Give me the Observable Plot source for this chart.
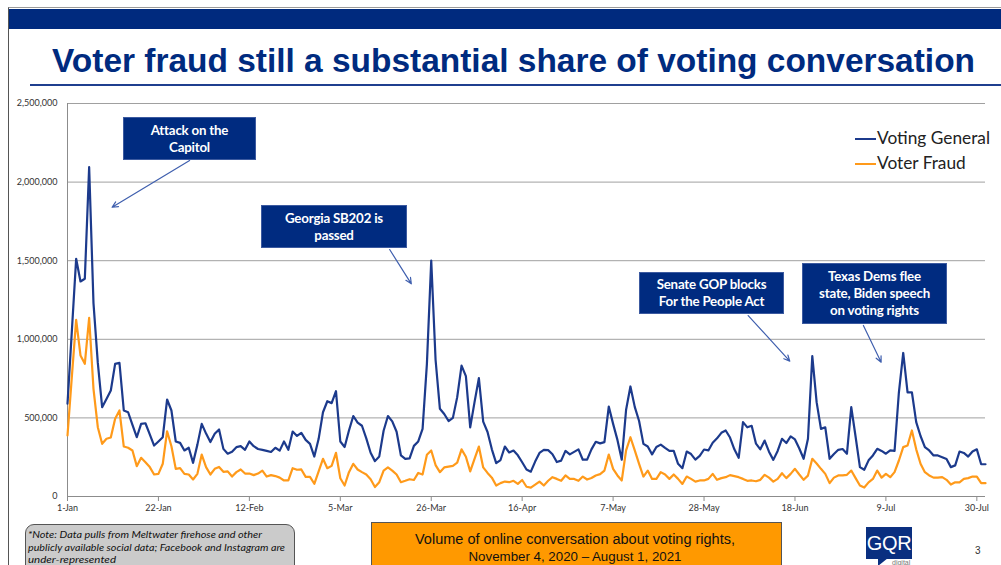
<!DOCTYPE html>
<html>
<head>
<meta charset="utf-8">
<script src="https://cdn.jsdelivr.net/npm/d3@7"></script>
<script src="https://cdn.jsdelivr.net/npm/@observablehq/plot@0.6"></script>
<style>
  html, body { margin: 0; padding: 0; background: #fff; }
  #page { position: relative; width: 1001px; height: 565px; overflow: hidden; background: #fff; font-family: Lato, "Liberation Sans", sans-serif; }
  #frame { position: absolute; left: 8px; top: 7px; right: -2px; bottom: -10px; border-left: 1.5px solid #555; border-top: 1px solid #9a9a9a; }
  #bar { position: absolute; left: 9px; top: 9px; width: 992px; height: 20px; background: #002a7e; }
  #titleSvg { position: absolute; left: 0; top: 30px; }
  #rule { position: absolute; left: 30px; top: 84px; width: 971px; height: 2px; background: #1f3f8f; }
  #chart { position: absolute; left: 0; top: 95px; }
  .anno { position: absolute; background: #002b80; color: #fff; font-family: Lato, sans-serif; font-weight: 700; font-size: 13.3px; line-height: 17px; text-align: center; display: flex; align-items: center; justify-content: center; border: 1px solid #3c5aa0; box-sizing: border-box; letter-spacing: -0.2px; }
  #legend { position: absolute; left: 855px; top: 125px; font-family: Lato, sans-serif; font-size: 17.3px; color: #222; line-height: 25px; }
  #legend .sw { display: inline-block; width: 21px; height: 2px; vertical-align: middle; margin-right: 1px; position: relative; top: -1px; }
  #note { position: absolute; left: 25px; top: 524px; width: 270px; height: 60px; background: #cbcbcb; border: 1.5px solid #555; border-radius: 9px; box-sizing: border-box; }
  #noteSvg { position: absolute; left: 0; top: 0; }
  #orange { position: absolute; left: 371px; top: 522px; width: 411px; height: 60px; background: #ff9900; border: 1.5px solid #555; box-sizing: border-box; }
  #logo { position: absolute; left: 866px; top: 527px; width: 46px; height: 32px; background: #0a2f80; }
  #logoTail { position: absolute; left: 878px; top: 558px; width: 0; height: 0; border-left: 10px solid #0a2f80; border-bottom: 8px solid transparent; }
  #logoTxt { position: absolute; left: 866px; top: 527px; width: 46px; height: 32px; color: #fff; font-family: "Liberation Sans", Arial, sans-serif; font-size: 20px; line-height: 32px; text-align: center; letter-spacing: -0.3px; }
  #digital { position: absolute; left: 892px; top: 559px; font-size: 7px; color: #777; font-family: "Liberation Sans", sans-serif; }
  #pnum { position: absolute; left: 975px; top: 545px; font-size: 10px; color: #333; font-family: "Liberation Sans", sans-serif; }
</style>
</head>
<body>
<div id="page">
  <div id="frame"></div>
  <div id="bar"></div>
  <svg id="titleSvg" width="1001" height="55">
    <text x="52" y="42" textLength="923" lengthAdjust="spacingAndGlyphs" font-family="Liberation Sans, Arial, sans-serif" font-weight="700" font-size="33" fill="#002b7f">Voter fraud still a substantial share of voting conversation</text>
  </svg>
  <div id="rule"></div>
  <div id="chart"></div>
  <div id="annos"></div>
  <div id="legend"></div>
  <div id="note">
    <svg id="noteSvg" width="270" height="60">
      <text x="2" y="13" textLength="234" lengthAdjust="spacingAndGlyphs" font-family="Lato, sans-serif" font-style="italic" font-size="9.5" fill="#111">*Note: Data pulls from Meltwater firehose and other</text>
      <text x="2" y="25.5" textLength="257" lengthAdjust="spacingAndGlyphs" font-family="Lato, sans-serif" font-style="italic" font-size="9.5" fill="#111">publicly available social data; Facebook and Instagram are</text>
      <text x="2" y="38" textLength="88" lengthAdjust="spacingAndGlyphs" font-family="Lato, sans-serif" font-style="italic" font-size="9.5" fill="#111">under-represented</text>
    </svg>
  </div>
  <div id="orange">
    <svg width="411" height="60" style="position:absolute;left:-1.5px;top:-1.5px">
      <text x="204" y="22" text-anchor="middle" textLength="320" lengthAdjust="spacingAndGlyphs" font-family="Liberation Sans Narrow, Liberation Sans, sans-serif" font-size="14" fill="#111">Volume of online conversation about voting rights,</text>
      <text x="204" y="39" text-anchor="middle" textLength="213" lengthAdjust="spacingAndGlyphs" font-family="Liberation Sans Narrow, Liberation Sans, sans-serif" font-size="13" fill="#111">November 4, 2020 – August 1, 2021</text>
    </svg>
  </div>
  <div id="logo"></div>
  <div id="logoTail"></div>
  <div id="logoTxt">GQR</div>
  <div id="digital">digital</div>
  <div id="pnum">3</div>
</div>
<script>
// ---- Data (values in thousands, daily from 1-Jan-2021 to 1-Aug-2021) ----
const seriesNames = ["Voting General", "Voter Fraud"];
const seriesColors = ["#1c3a8c", "#ff9a1a"];

const votingGeneral = [
  590,1050,1512,1368,1385,2095,1230,850,568,620,674,844,850,547,536,455,377,462,466,395,
  324,350,377,617,547,350,341,293,310,214,330,462,400,346,399,426,303,272,285,314,
  320,297,350,320,302,297,290,283,310,292,350,297,413,385,405,360,335,254,367,536,
  606,594,670,350,315,420,512,470,450,370,278,225,255,418,512,478,412,261,239,242,
  322,350,430,844,1501,870,558,525,480,500,632,833,766,440,600,753,476,410,300,212,
  232,318,280,292,262,218,172,158,222,277,296,295,269,219,228,290,268,284,300,234,
  235,300,348,338,346,572,462,360,234,552,700,570,480,335,318,268,315,330,309,290,
  290,208,180,286,270,235,258,299,293,342,370,405,420,375,300,246,473,440,450,336,
  300,356,285,233,290,367,340,382,363,305,240,367,893,600,430,440,240,270,297,302,
  272,568,380,187,170,230,261,303,290,272,293,290,663,913,663,663,473,385,314,293,
  261,261,250,238,187,198,286,277,254,286,300,205,205
];
const voterFraud = [
  388,760,1124,897,844,1137,685,441,335,367,375,494,547,318,310,293,193,246,218,187,
  140,144,208,415,320,176,180,144,140,108,144,267,187,140,176,188,157,160,127,155,
  172,146,146,136,146,165,127,136,130,120,102,102,180,170,172,125,125,81,160,240,
  180,195,278,116,70,155,208,172,155,140,110,60,91,165,185,165,140,91,100,110,
  105,150,140,265,293,200,155,185,190,195,215,300,253,160,240,318,185,150,120,70,
  85,95,91,100,80,105,62,56,75,95,70,100,123,112,100,134,112,112,100,127,
  108,118,134,142,165,267,176,134,102,293,377,293,208,127,165,112,112,155,140,112,
  140,112,80,127,112,95,102,102,112,144,106,117,123,136,130,123,112,100,102,97,
  106,138,120,95,112,148,117,144,176,140,106,133,240,210,176,144,85,120,134,134,
  138,165,117,70,57,90,112,165,120,144,123,155,229,314,324,420,300,208,155,134,
  120,120,123,106,76,90,90,112,117,127,127,85,85
];

const yTicks = [0, 500000, 1000000, 1500000, 2000000, 2500000];
const xTickLabels = ["1-Jan","22-Jan","12-Feb","5-Mar","26-Mar","16-Apr","7-May","28-May","18-Jun","9-Jul","30-Jul"];
const xTickDayOffsets = [0,21,42,63,84,105,126,147,168,189,210];

// Annotations: text lines, box position (px, decoration), arrow anchored in data space (day offset, value)
const annotations = [
  {lines:["Attack on the","Capitol"], left:123, top:117, w:133, h:43, from:[28.2,2137000], to:[10.3,1840000]},
  {lines:["Georgia SB202 is","passed"], left:261, top:205, w:146, h:43, from:[74.4,1571000], to:[79.4,1353000]},
  {lines:["Senate GOP blocks","For the People Act"], left:639, top:272, w:145, h:42, from:[157.2,1151000], to:[166.8,861000]},
  {lines:["Texas Dems flee","state, Biden speech","on voting rights"], left:802, top:263, w:145, h:61, from:[183.8,1088000], to:[187.9,854000]}
];

// ---- Build ----
const day0 = Date.UTC(2021, 0, 1);
const toDate = d => new Date(day0 + d * 864e5);

const data = [];
[votingGeneral, voterFraud].forEach((arr, si) => {
  arr.forEach((v, i) => data.push({series: seriesNames[si], date: toDate(i), value: v * 1000}));
});
const xTicks = xTickDayOffsets.map(toDate);
const labelMap = new Map(xTicks.map((d, i) => [+d, xTickLabels[i]]));

const chart = Plot.plot({
  width: 1001,
  height: 430,
  marginLeft: 67,
  marginRight: 16,
  marginTop: 8,
  marginBottom: 29,
  style: {fontFamily: "Lato, sans-serif", fontSize: "9px", color: "#333", background: "transparent"},
  x: {type: "utc", domain: [toDate(0), toDate(votingGeneral.length - 1)]},
  y: {domain: [0, 2500000]},
  color: {domain: seriesNames, range: seriesColors},
  marks: [
    Plot.ruleY(yTicks.slice(1), {stroke: "#a0a0a0", strokeWidth: 1}),
    Plot.ruleX([toDate(0)], {stroke: "#8c8c8c", strokeWidth: 1}),
    Plot.ruleY([0], {stroke: "#8c8c8c", strokeWidth: 1}),
    Plot.axisY(yTicks, {tickSize: 0, tickPadding: 10, tickFormat: d3.format(","), label: null, fill: "#333"}),
    Plot.axisX(xTicks, {tickSize: 5, tickPadding: 3, tickFormat: d => labelMap.get(+d), label: null, stroke: "#8c8c8c", fill: "#333"}),
    Plot.line(data, {x: "date", y: "value", z: "series", stroke: "series", strokeWidth: 2.2, curve: "linear"}),
    Plot.arrow(annotations, {
      x1: d => toDate(d.from[0]), y1: d => d.from[1],
      x2: d => toDate(d.to[0]), y2: d => d.to[1],
      stroke: "#3f5fae", strokeWidth: 1.2, headLength: 8, headAngle: 50
    })
  ]
});
document.getElementById("chart").appendChild(chart);

// annotation boxes
const annos = document.getElementById("annos");
annotations.forEach(a => {
  const div = document.createElement("div");
  div.className = "anno";
  div.style.left = a.left + "px";
  div.style.top = a.top + "px";
  div.style.width = a.w + "px";
  div.style.height = a.h + "px";
  div.innerHTML = a.lines.join("<br>");
  annos.appendChild(div);
});

// legend
const legend = document.getElementById("legend");
seriesNames.forEach((name, i) => {
  const row = document.createElement("div");
  row.innerHTML = `<span class="sw" style="background:${seriesColors[i]}"></span>${name}`;
  legend.appendChild(row);
});
</script>
</body>
</html>
